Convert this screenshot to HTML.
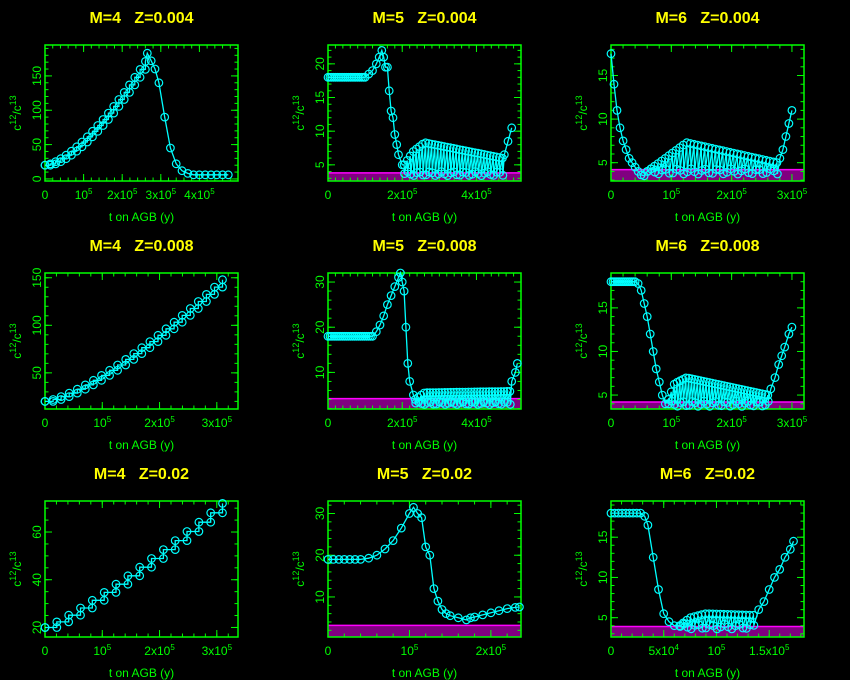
<!DOCTYPE html>
<html><head><meta charset="utf-8"><style>
html,body{margin:0;padding:0;background:#000;}
svg{display:block;}
text{font-family:"Liberation Sans",sans-serif;}
</style></head><body>
<svg id="s" width="850" height="680" xmlns="http://www.w3.org/2000/svg"></svg>
<script>
const S=document.getElementById('s');let out='';
const G='#00ff00',C='#00ffff';
function sup(m,e){return e===''?m:`${m}<tspan dy="-5" font-size="8">${e}</tspan>`;}
function panel(p){
 const L=p.x0,T=p.y0,W=193,H=136;
 const X=t=>L+t/p.xmax*W, Y=v=>T+H-(v-p.ymin)/(p.ymax-p.ymin)*H;
 let s='';
 s+=`<text x="${L+W/2}" y="${T-22}" fill="#ffff00" font-size="16" font-weight="bold" text-anchor="middle">${p.title}</text>`;
 if(p.band){s+=`<rect x="${L}" y="${Y(p.band[1])}" width="${W}" height="${T+H-Y(p.band[1])}" fill="#800080"/>`;
  s+=`<line x1="${L}" x2="${L+W}" y1="${Y(p.band[1])}" y2="${Y(p.band[1])}" stroke="#ff00ff" stroke-width="1.5"/>`;}
 s+=`<rect x="${L}" y="${T}" width="${W}" height="${H}" fill="none" stroke="${G}" stroke-width="1.5"/>`;
 for(const [v,lab,e] of p.xt){const x=X(v);s+=`<line x1="${x}" x2="${x}" y1="${T+H}" y2="${T+H-7}" stroke="${G}"/><line x1="${x}" x2="${x}" y1="${T}" y2="${T+7}" stroke="${G}"/>`;
  s+=`<text x="${x}" y="${T+H+18}" fill="${G}" font-size="12" text-anchor="middle">${sup(lab,e)}</text>`;}
 for(let v=0;v<=p.xmax;v+=p.xm){const x=X(v);s+=`<line x1="${x}" x2="${x}" y1="${T+H}" y2="${T+H-3.5}" stroke="${G}"/><line x1="${x}" x2="${x}" y1="${T}" y2="${T+3.5}" stroke="${G}"/>`;}
 for(const v of p.yt){const y=Y(v);s+=`<line x1="${L}" x2="${L+7}" y1="${y}" y2="${y}" stroke="${G}"/><line x1="${L+W}" x2="${L+W-7}" y1="${y}" y2="${y}" stroke="${G}"/>`;
  s+=`<text transform="translate(${L-4},${y}) rotate(-90)" fill="${G}" font-size="12" text-anchor="middle">${v}</text>`;}
 for(let v=Math.ceil(p.ymin/p.ym)*p.ym;v<=p.ymax;v+=p.ym){const y=Y(v);s+=`<line x1="${L}" x2="${L+3.5}" y1="${y}" y2="${y}" stroke="${G}"/><line x1="${L+W}" x2="${L+W-3.5}" y1="${y}" y2="${y}" stroke="${G}"/>`;}
 s+=`<text x="${L+W/2}" y="${T+H+40}" fill="${G}" font-size="12" text-anchor="middle">t on AGB (y)</text>`;
 s+=`<text transform="translate(${L-24},${T+H/2}) rotate(-90)" fill="${G}" font-size="12" text-anchor="middle">c<tspan dy="-5" font-size="9">12</tspan><tspan dy="5">/c</tspan><tspan dy="-5" font-size="9">13</tspan></text>`;
 const pts=p.pts;
 s+=`<polyline fill="none" stroke="${C}" stroke-width="1.3" points="${pts.map(q=>X(q[0]).toFixed(1)+','+Y(q[1]).toFixed(1)).join(' ')}"/>`;
 for(const q of pts) s+=`<circle cx="${X(q[0]).toFixed(1)}" cy="${Y(q[1]).toFixed(1)}" r="3.8" fill="none" stroke="${C}" stroke-width="1.2"/>`;
 out+=s;
}
function stair(t0,t1,n,f){const a=[];let prev=f(t0);for(let i=0;i<=n;i++){const t=t0+(t1-t0)*i/n,v=f(t);a.push([t,prev]);a.push([t,v]);prev=v;}return a;}
function flat(t0,t1,n,v){const a=[];for(let i=0;i<=n;i++)a.push([t0+(t1-t0)*i/n,v]);return a;}
function osc(t0,t1,n,up,lo){const a=[];for(let i=0;i<=n;i++){const t=t0+(t1-t0)*i/n;a.push([t,up(t)]);a.push([t+(t1-t0)/n*0.15,lo(t)+0.3*Math.sin(i*1.7)]);}return a;}
const lin=(pts)=>t=>{for(let i=0;i<pts.length-1;i++){if(t<=pts[i+1][0]){const [a,b]=pts[i],[c,d]=pts[i+1];return b+(d-b)*(t-a)/(c-a);}}return pts[pts.length-1][1];};
const xt5=[[0,'0',''],[1e5,'10','5'],[2e5,'2x10','5'],[3e5,'3x10','5'],[4e5,'4x10','5']];
const xt2=[[0,'0',''],[2e5,'2x10','5'],[4e5,'4x10','5']];
const xt3=[[0,'0',''],[1e5,'10','5'],[2e5,'2x10','5'],[3e5,'3x10','5']];
const cx=[45,328,611], ry=[45,273,501];
panel({x0:cx[0],y0:ry[0],title:'M=4&#160;&#160;&#160;Z=0.004',xmax:5e5,ymin:-3,ymax:195,xt:xt5,xm:2e4,yt:[0,50,100,150],ym:10,
 pts:[...stair(0,2.6e5,19,t=>20+160*Math.pow(t/2.7e5,1.5)),[2.65e5,183],[2.75e5,172],[2.85e5,160],[2.95e5,140],[3.1e5,90],[3.25e5,45],[3.4e5,22],[3.55e5,12],[3.7e5,8],...flat(3.85e5,4.75e5,6,6)]});
panel({x0:cx[1],y0:ry[0],title:'M=5&#160;&#160;&#160;Z=0.004',xmax:5.2e5,ymin:2.6,ymax:22.8,xt:xt2,xm:2e4,yt:[5,10,15,20],ym:1,band:[2.6,3.8],
 pts:[...flat(0,1.0e5,20,18),[1.1e5,18.5],[1.2e5,19],[1.3e5,20],[1.38e5,21],[1.45e5,22],[1.5e5,21],[1.55e5,19.5],[1.6e5,19.5],[1.65e5,16],[1.7e5,13],[1.75e5,12],[1.8e5,9.5],[1.85e5,8],[1.9e5,6.5],[2.0e5,5],
 ...osc(2.05e5,4.7e5,32,lin([[2.05e5,5],[2.3e5,7],[2.6e5,8.3],[4.7e5,6]]),t=>3.7),[4.75e5,6.5],[4.85e5,8.5],[4.95e5,10.5]]});
panel({x0:cx[2],y0:ry[0],title:'M=6&#160;&#160;&#160;Z=0.004',xmax:3.2e5,ymin:2.9,ymax:18.5,xt:xt3,xm:2e4,yt:[5,10,15],ym:1,band:[2.9,4.2],
 pts:[[0,17.5],[5e3,14],[1e4,11],[1.5e4,9],[2e4,7.5],[2.5e4,6.5],[3e4,5.5],[3.5e4,5],[4e4,4.5],[4.5e4,4],[5e4,3.6],[5.5e4,3.5],
 ...osc(6e4,2.75e5,36,lin([[6e4,4],[9e4,5.5],[1.25e5,7.3],[2.75e5,5]]),t=>4.0),[2.8e5,5.5],[2.85e5,6.5],[2.9e5,8],[2.95e5,9.5],[3.0e5,11]]});
panel({x0:cx[0],y0:ry[1],title:'M=4&#160;&#160;&#160;Z=0.008',xmax:3.37e5,ymin:12,ymax:155,xt:xt3,xm:2e4,yt:[50,100,150],ym:10,
 pts:stair(0,3.1e5,22,t=>20+128*Math.pow(t/3.1e5,1.35))});
panel({x0:cx[1],y0:ry[1],title:'M=5&#160;&#160;&#160;Z=0.008',xmax:5.2e5,ymin:1.9,ymax:32,xt:xt2,xm:2e4,yt:[10,20,30],ym:2,band:[1.9,4.2],
 pts:[...flat(0,1.2e5,22,18),[1.3e5,19],[1.4e5,20.5],[1.5e5,22.5],[1.6e5,25],[1.7e5,27],[1.8e5,29],[1.9e5,31],[1.95e5,32],[2.0e5,30],[2.05e5,28],[2.1e5,20],[2.15e5,12],[2.2e5,8],[2.3e5,5],
 ...osc(2.35e5,4.9e5,32,lin([[2.35e5,4],[2.6e5,5.5],[4.9e5,5.8]]),t=>3.2),[4.95e5,8],[5.05e5,10],[5.1e5,12]]});
panel({x0:cx[2],y0:ry[1],title:'M=6&#160;&#160;&#160;Z=0.008',xmax:3.2e5,ymin:3.4,ymax:19,xt:xt3,xm:2e4,yt:[5,10,15],ym:1,band:[3.4,4.2],
 pts:[...flat(0,4e4,12,18),[4.5e4,17.8],[5e4,17],[5.5e4,15.5],[6e4,14],[6.5e4,12],[7e4,10],[7.5e4,8],[8e4,6.5],[8.5e4,5],[9e4,4],
 ...osc(9.5e4,2.6e5,34,lin([[9.5e4,4.5],[1.05e5,6.3],[1.25e5,7],[2.6e5,5]]),t=>4.0),[2.65e5,5.7],[2.72e5,7],[2.78e5,8.5],[2.83e5,9.5],[2.88e5,10.5],[2.95e5,12],[3.0e5,12.8]]});
panel({x0:cx[0],y0:ry[2],title:'M=4&#160;&#160;&#160;Z=0.02',xmax:3.37e5,ymin:16,ymax:73,xt:xt3,xm:2e4,yt:[20,40,60],ym:5,
 pts:stair(0,3.1e5,15,t=>20+52*Math.pow(t/3.1e5,1.15))});
panel({x0:cx[1],y0:ry[2],title:'M=5&#160;&#160;&#160;Z=0.02',xmax:2.37e5,ymin:0.4,ymax:33,xt:[[0,'0',''],[1e5,'10','5'],[2e5,'2x10','5']],xm:2e4,yt:[10,20,30],ym:2,band:[0.4,3.2],
 pts:[...flat(0,4e4,6,19),[5e4,19.3],[6e4,20],[7e4,21.5],[8e4,23.5],[9e4,26.5],[1e5,30],[1.05e5,31.5],[1.1e5,30],[1.15e5,29],[1.2e5,22],[1.25e5,20],[1.3e5,12],[1.35e5,9],[1.4e5,7],[1.45e5,6],[1.5e5,5.5],[1.6e5,5],[1.7e5,4.5],[1.75e5,5],[1.8e5,5.2],[1.9e5,5.7],[2.0e5,6.2],[2.1e5,6.7],[2.2e5,7.2],[2.3e5,7.5],[2.35e5,7.6]]});
panel({x0:cx[2],y0:ry[2],title:'M=6&#160;&#160;&#160;Z=0.02',xmax:1.83e5,ymin:2.6,ymax:19.5,xt:[[0,'0',''],[5e4,'5x10','4'],[1e5,'10','5'],[1.5e5,'1.5x10','5']],xm:1e4,yt:[5,10,15],ym:1,band:[2.6,3.9],
 pts:[...flat(0,2.8e4,8,18),[3.2e4,17.6],[3.5e4,16.5],[4e4,12.5],[4.5e4,8.5],[5e4,5.5],[5.5e4,4.5],[6e4,4],
 ...osc(6.5e4,1.35e5,20,lin([[6.5e4,4],[7.5e4,5],[9e4,5.5],[1.35e5,5.3]]),t=>3.9),[1.4e5,6],[1.45e5,7],[1.5e5,8.5],[1.55e5,10],[1.6e5,11],[1.65e5,12.5],[1.7e5,13.5],[1.73e5,14.5]]});
S.innerHTML=out;
</script>
</body></html>
